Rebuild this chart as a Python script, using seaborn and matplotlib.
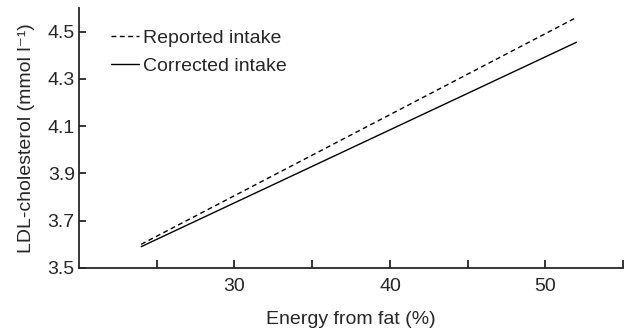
import pandas as pd
import matplotlib
matplotlib.use("Agg")
import matplotlib.pyplot as plt
import seaborn as sns

# values
fat_energy = [24, 52]
reported = [3.60, 4.56]
corrected = [3.59, 4.455]
series = ["Reported intake", "Corrected intake"]

df = pd.DataFrame({
    "fat": fat_energy * 2,
    "ldl": reported + corrected,
    "intake": [series[0]] * 2 + [series[1]] * 2,
})

sns.set_style("ticks")
plt.rcParams["font.family"] = ["Liberation Sans", "DejaVu Sans"]

fig = plt.figure(figsize=(6.32, 3.32), dpi=100)
ax = fig.add_axes([0.125, 0.193, 0.861, 0.783])

sns.lineplot(data=df, x="fat", y="ldl", style="intake", style_order=series,
             dashes={series[0]: (3.5, 2.5), series[1]: ""},
             color="black", linewidth=1.0, ax=ax)

ax.set_xlim(20, 55)
ax.set_ylim(3.5, 4.6)
ax.set_xticks([25, 30, 35, 40, 45, 50, 55])
ax.set_xticklabels(["", "30", "", "40", "", "50", ""])
ax.set_yticks([3.5, 3.7, 3.9, 4.1, 4.3, 4.5])
ax.set_yticklabels(["3.5", "3.7", "3.9", "4.1", "4.3", "4.5"])
ax.tick_params(axis="x", direction="in", length=6, width=1.3, labelsize=14, pad=7)
ax.tick_params(axis="y", direction="in", length=5, width=1.3, labelsize=14, pad=3)
for s in ["left", "bottom"]:
    ax.spines[s].set_linewidth(1.3)
sns.despine(ax=ax)

ax.set_xlabel("Energy from fat (%)", fontsize=14, labelpad=12)
ax.set_ylabel("LDL-cholesterol (mmol l\u207b\u00b9)", fontsize=14, labelpad=9)

leg = ax.legend(loc="upper left", bbox_to_anchor=(0.026, 0.985), frameon=False,
                fontsize=14, handlelength=1.45, handletextpad=0.2, labelspacing=0.55)
for h in leg.get_lines():
    h.set_linewidth(1.0)

fig.savefig("out.png", dpi=100)
